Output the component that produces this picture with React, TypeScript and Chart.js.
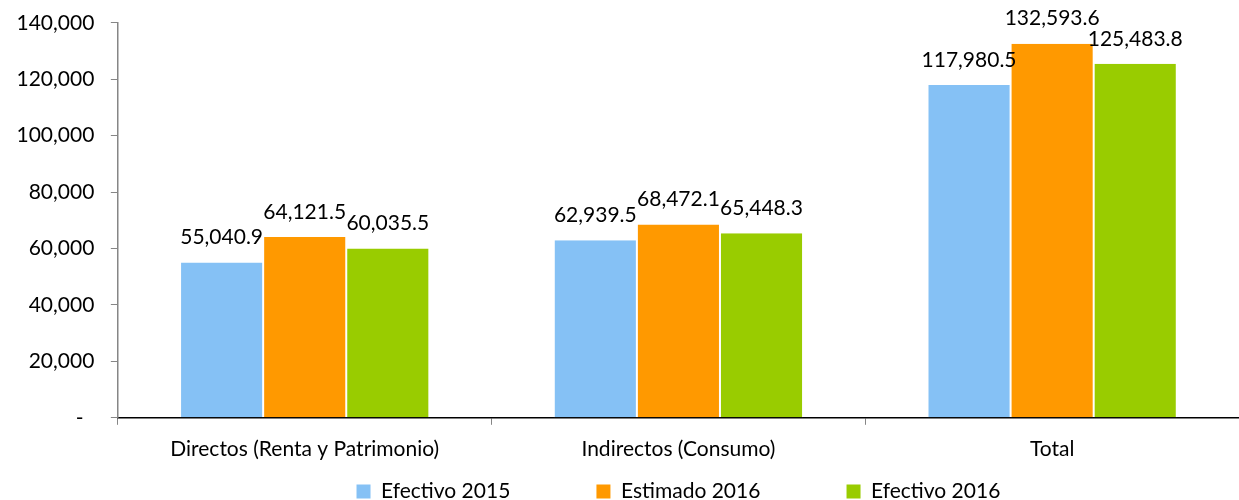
import React, { useEffect, useRef } from "react";
import { Chart, registerables } from "chart.js";

Chart.register(...registerables);

const categories = ["Directos (Renta y Patrimonio)", "Indirectos (Consumo)", "Total"];
const efectivo2015 = [55040.9, 62939.5, 117980.5];
const estimado2016 = [64121.5, 68472.1, 132593.6];
const efectivo2016 = [60035.5, 65448.3, 125483.8];
const seriesNames = ["Efectivo 2015", "Estimado 2016", "Efectivo 2016"];
const seriesColors = ["#85C1F5", "#FF9900", "#99CC00"];

const FONT = "Lato, 'Open Sans', sans-serif";
const FS = 21;

const fmt = (v: number, d: number) =>
  v.toLocaleString("en-US", { minimumFractionDigits: d, maximumFractionDigits: d });

const labelPlugin = {
  id: "valueLabels",
  afterDatasetsDraw(chart: any) {
    const ctx = chart.ctx;
    ctx.save();
    ctx.font = `${FS}px ${FONT}`;
    ctx.fillStyle = "#000";
    ctx.textAlign = "center";
    ctx.textBaseline = "middle";
    chart.data.datasets.forEach((ds: any, i: number) => {
      const meta = chart.getDatasetMeta(i);
      meta.data.forEach((bar: any, j: number) => {
        ctx.fillText(fmt(ds.data[j], 1), bar.x, bar.y - 25);
      });
    });
    ctx.restore();
  },
};

export default function App() {
  const ref = useRef<HTMLCanvasElement>(null);
  useEffect(() => {
    document.body.style.margin = "0";
    const defaultGen = (Chart.defaults.plugins.legend.labels as any).generateLabels;
    const chart = new Chart(ref.current!, {
      type: "bar",
      data: {
        labels: categories,
        datasets: [efectivo2015, estimado2016, efectivo2016].map((d, i) => ({
          label: seriesNames[i],
          data: d,
          backgroundColor: seriesColors[i],
          borderColor: "#ffffff",
          borderWidth: { left: 1, right: 1, top: 0, bottom: 0 },
          categoryPercentage: 0.667,
          barPercentage: 1,
        })),
      },
      options: {
        animation: false,
        responsive: true,
        maintainAspectRatio: false,
        layout: { padding: { top: 0, right: 0, left: 0, bottom: -12 } },
        plugins: {
          legend: {
            position: "bottom",
            fullSize: false,
            labels: {
              font: { family: FONT, size: FS },
              color: "#000",
              boxWidth: 14,
              boxHeight: 14,
              padding: 7,
              generateLabels: (chart: any) => {
                const items = defaultGen(chart);
                items.forEach((it: any, i: number) => {
                  it.lineWidth = 0;
                  if (i < items.length - 1) it.text = it.text + "\u2003\u2003\u2003\u2003   ";
                });
                return items;
              },
            },
          },
          tooltip: { enabled: false },
        },
        scales: {
          x: {
            offset: true,
            grid: {
              offset: true,
              drawOnChartArea: false,
              tickLength: 7,
              color: "#868686",
            },
            border: { color: "#000", width: 1.5 },
            ticks: { font: { family: FONT, size: FS }, color: "#000", padding: 12 },
          },
          y: {
            min: 0,
            max: 140000,
            grid: { drawOnChartArea: false, tickLength: 7, color: "#868686" },
            border: { color: "#868686", width: 1.5 },
            ticks: {
              stepSize: 20000,
              font: { family: FONT, size: FS, lineHeight: 0.6 },
              color: "#000",
              padding: 16.5,
              callback: (v: any) => (Number(v) === 0 ? "-  " : fmt(Number(v), 0)),
            },
          },
        },
      },
      plugins: [labelPlugin],
    });
    return () => chart.destroy();
  }, []);
  return (
    <div style={{ width: 1239, height: 500, position: "relative" }}>
      <canvas ref={ref} />
    </div>
  );
}
